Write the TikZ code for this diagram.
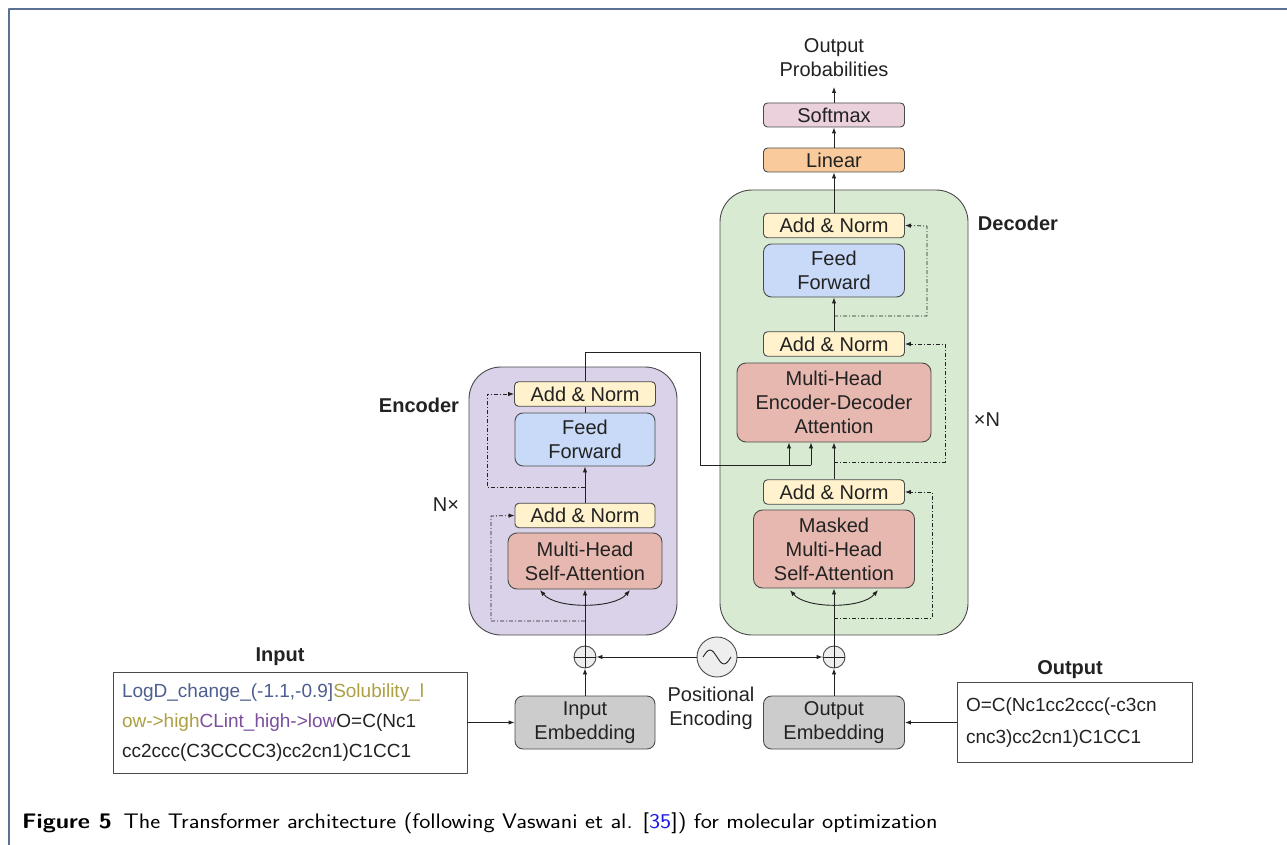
\documentclass[tikz,border=0pt]{standalone}
\usepackage{fontspec}
\setmainfont{Liberation Sans}
\usepackage{xcolor}
\usepackage{tikz}
\usetikzlibrary{arrows.meta,calc}
\definecolor{ink}{HTML}{222222}
\definecolor{edge}{HTML}{4A4A4A}
\definecolor{frameblue}{HTML}{5B7194}
\definecolor{encfill}{HTML}{D9D2E9}
\definecolor{decfill}{HTML}{D9EAD3}
\definecolor{yel}{HTML}{FFF2CC}
\definecolor{blu}{HTML}{C9DAF8}
\definecolor{rd}{HTML}{E6B8AF}
\definecolor{org}{HTML}{F9CB9C}
\definecolor{pnk}{HTML}{EAD1DC}
\definecolor{gry}{HTML}{CCCCCC}
\definecolor{plusfill}{HTML}{EEEEEE}
\definecolor{tokblue}{HTML}{4D5F91}
\definecolor{tokgold}{HTML}{ADA043}
\definecolor{tokpurple}{HTML}{7B4E9E}
\definecolor{refblue}{HTML}{1A1AE6}
\newcommand{\dia}{\fontsize{20}{24}\selectfont}
\tikzset{
  blk/.style={draw=edge, line width=0.9pt, rounded corners=4pt, text=ink, align=center, inner sep=0pt, font=\dia},
  addn/.style={blk, fill=yel, minimum width=141pt, minimum height=24.5pt},
  ffwd/.style={blk, fill=blu, rounded corners=8pt, minimum width=141pt, minimum height=53pt},
  attn/.style={blk, fill=rd, rounded corners=9pt},
  emb/.style={blk, fill=gry, rounded corners=8pt, minimum width=141pt, minimum height=53pt},
  box/.style={draw=edge, line width=0.9pt, fill=white, text=ink, align=left, inner sep=9pt, font=\fontsize{19}{30}\selectfont},
  cont/.style={draw=edge, line width=0.9pt, rounded corners=32pt},
  lbl/.style={text=ink, font=\dia\bfseries},
  plain/.style={text=ink, font=\dia, align=center},
  wire/.style={draw=ink, line width=0.9pt},
  arr/.style={wire, -{Latex[length=6pt,width=4.5pt]}},
  both/.style={wire, {Latex[length=6pt,width=4.5pt]}-{Latex[length=6pt,width=4.5pt]}},
  res/.style={draw=ink, line width=0.8pt, dash pattern=on 4pt off 2pt on 1pt off 2pt, -{Latex[length=6pt,width=4.5pt]}},
  addc/.style={circle, draw=edge, line width=0.9pt, fill=plusfill, minimum size=22pt, inner sep=0pt},
  frame/.style={draw=frameblue, line width=2pt}
}

\begin{document}
\begin{tikzpicture}[x=1pt, y=-1pt, line join=round]
  \useasboundingbox (0,0) rectangle (1287,845);
  \draw[frame] (9,846) -- (9,9) -- (1287,9);

  % containers
  \draw[cont, fill=encfill] (469,367) rectangle (677,635);
  \draw[cont, fill=decfill] (720,190) rectangle (968,635);
  \node[lbl] (encName) at (419,405) {Encoder};
  \node[plain] (encN) at (446,505) {N×};
  \node[lbl] (decName) at (1018,223) {Decoder};
  \node[plain] (decN) at (987,420) {×N};

  % encoder stack
  \node[addn] (encAN2) at (585,394) {Add \& Norm};
  \node[ffwd, minimum width=140pt] (encFF) at (585,439.5) {Feed\\Forward};
  \node[addn, minimum width=140pt] (encAN1) at (585,515.5) {Add \& Norm};
  \node[attn, minimum width=154pt, minimum height=56pt] (encMHA) at (585,561) {Multi-Head\\Self-Attention};

  % decoder stack
  \node[addn] (decAN3) at (834,225.5) {Add \& Norm};
  \node[ffwd] (decFF) at (834,270.5) {Feed\\Forward};
  \node[addn] (decAN2) at (834,344) {Add \& Norm};
  \node[attn, minimum width=194pt, minimum height=79pt] (decEDA) at (834,402.5) {Multi-Head\\Encoder-Decoder\\Attention};
  \node[addn] (decAN1) at (834,492) {Add \& Norm};
  \node[attn, minimum width=161pt, minimum height=78pt] (decMMA) at (834,549) {Masked\\Multi-Head\\Self-Attention};

  % head
  \node[blk, fill=org, minimum width=141pt, minimum height=24pt] (linear) at (834,160) {Linear};
  \node[blk, fill=pnk, minimum width=141pt, minimum height=24pt] (softmax) at (834,115) {Softmax};
  \node[plain] (probs) at (834,58) {Output\\Probabilities};

  % embeddings and positional encoding
  \node[emb, minimum width=140pt] (inEmb) at (585,722.5) {Input\\Embedding};
  \node[emb] (outEmb) at (834,722.5) {Output\\Embedding};
  \node[addc] (encPlus) at (585,657) {};
  \node[addc] (decPlus) at (834,657) {};
  \node[circle, draw=edge, line width=0.9pt, fill=plusfill, minimum size=40pt, inner sep=0pt] (posEnc) at (717,657) {};
  \draw[wire] (703,657) sin (710,650) cos (717,657) sin (724,664) cos (731,657);
  \node[plain] (posName) at (711,708) {Positional\\Encoding};

  % input / output sequences
  \node[lbl] (inName) at (280,657) {Input};
  \node[box, text width=336pt, minimum height=101pt] (inSeq) at (290,722.5) {%
    \textcolor{tokblue}{LogD\_change\_(-1.1,-0.9]}\textcolor{tokgold}{Solubility\_l}\\
    \textcolor{tokgold}{ow->high}\textcolor{tokpurple}{CLint\_high->low}O=C(Nc1\\
    cc2ccc(C3CCCC3)cc2cn1)C1CC1};
  \node[lbl] (outName) at (1070,670) {Output};
  \node[box, text width=217pt, minimum height=80pt, font=\fontsize{19}{32}\selectfont] (outSeq) at (1074.5,722.5) {%
    O=C(Nc1cc2ccc(-c3cn\\cnc3)cc2cn1)C1CC1};

  % encoder wiring
  \draw[arr] (inSeq.east) -- (inEmb.west);
  \draw[arr] (inEmb.north) -- (encPlus.south);
  \draw[wire] (encPlus.north) -- (encPlus.south) (encPlus.west) -- (encPlus.east);
  \draw[arr] (encPlus.north) -- (encMHA.south);
  \draw[arr] (encAN1.north) -- (encFF.south);
  \draw[wire] (encFF.north) -- (encAN2.south);
  \draw[both] (540,590) .. controls (556,609) and (614,609) .. (630,590);
  \draw[res] (585,621) -| (491,516) -- (encAN1.west);
  \draw[res] (585,487) -| (487,394) -- (encAN2.west);

  % encoder output to decoder
  \coordinate (kIn) at (789,465);
  \coordinate (vIn) at (811,465);
  \draw[wire] (encAN2.north) -- (585,352) -| (700,465) -- (vIn);
  \draw[arr] (kIn) -- (kIn |- decEDA.south);
  \draw[arr] (vIn) -- (vIn |- decEDA.south);

  % decoder wiring
  \draw[arr] (outSeq.west) -- (outEmb.east);
  \draw[arr] (outEmb.north) -- (decPlus.south);
  \draw[wire] (decPlus.north) -- (decPlus.south) (decPlus.west) -- (decPlus.east);
  \draw[arr] (decPlus.north) -- (decMMA.south);
  \draw[arr] (decAN1.north) -- (decEDA.south);
  \draw[arr] (decAN2.north) -- (decFF.south);
  \draw[both] (790,590) .. controls (806,609) and (862,609) .. (878,590);
  \draw[res] (834,618) -| (932,492) -- (decAN1.east);
  \draw[res] (834,462) -| (945,344) -- (decAN2.east);
  \draw[res] (834,316) -| (927,226) -- (decAN3.east);
  \draw[arr] (decAN3.north) -- (linear.south);
  \draw[arr] (linear.north) -- (softmax.south);
  \draw[arr] (softmax.north) -- (834,87);

  % positional encoding feed
  \draw[arr] (posEnc.west) -- (encPlus.east);
  \draw[arr] (posEnc.east) -- (decPlus.west);

  % caption
  \node[anchor=base west, inner sep=0pt, xscale=1.13, font=\sffamily\fontsize{21}{24}\selectfont] (caption) at (22,828)
    {\textbf{Figure 5}\enspace The Transformer architecture (following Vaswani et al. [\textcolor{refblue}{35}]) for molecular optimization};
\end{tikzpicture}
\end{document}
